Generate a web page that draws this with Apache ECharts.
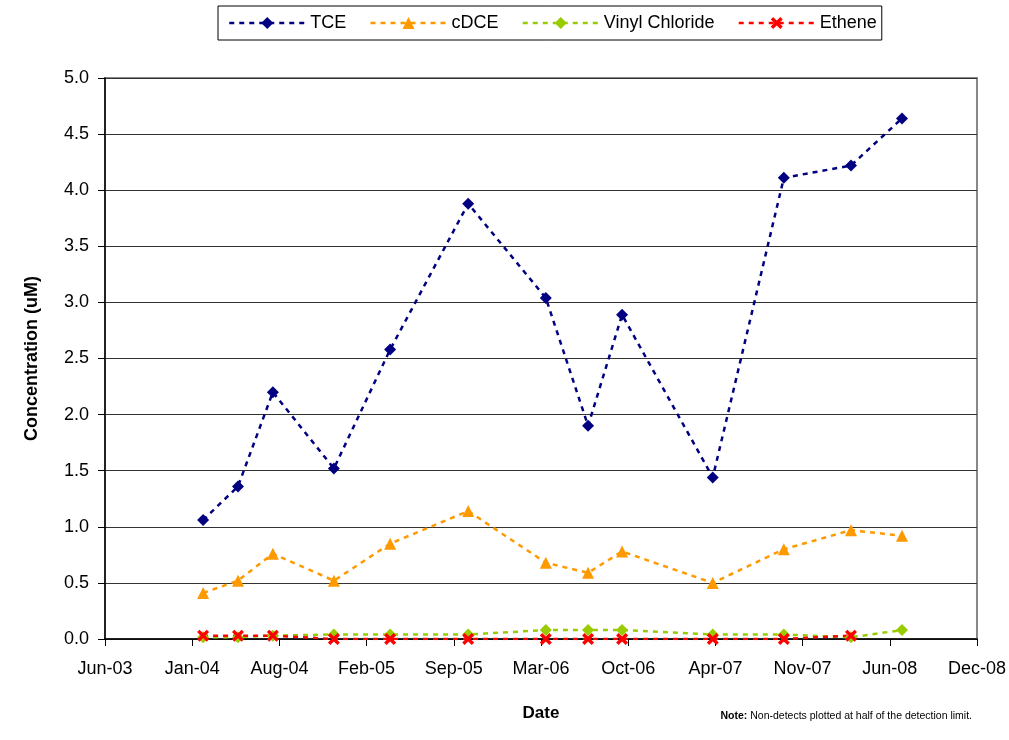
<!DOCTYPE html>
<html lang="en">
<head>
  <meta charset="UTF-8">
  <script src="https://cdn.jsdelivr.net/npm/echarts/dist/echarts.min.js"></script>
  <style>
    html, body { margin: 0; padding: 0; background: #fff; }
    #chart { width: 1009px; height: 740px; }
  </style>
</head>
<body>
  <div id="chart"></div>
  <script>
    // sampling dates and concentrations (uM)
    const sampleDates = [
      '2004-02-08', '2004-04-28', '2004-07-17', '2004-12-04', '2005-04-12',
      '2005-10-08', '2006-04-04', '2006-07-10', '2006-09-26', '2007-04-22',
      '2007-10-02', '2008-03-04', '2008-06-29'
    ];
    const tce = [1.06, 1.36, 2.20, 1.52, 2.58, 3.88, 3.04, 1.90, 2.89, 1.44, 4.11, 4.22, 4.64];
    const cdce = [0.41, 0.52, 0.76, 0.52, 0.85, 1.14, 0.68, 0.59, 0.78, 0.50, 0.80, 0.97, 0.92];
    const vinylChloride = [0.015, 0.015, 0.03, 0.04, 0.04, 0.04, 0.08, 0.08, 0.08, 0.04, 0.04, 0.015, 0.08];
    const ethene = [0.03, 0.03, 0.03, 0.0, 0.0, 0.0, 0.0, 0.0, 0.0, 0.0, 0.0, 0.03, null];

    // x axis runs in days from the axis start, ticks every 200 days
    const axisStart = Date.UTC(2003, 5, 28);
    const DAY = 86400000;
    const months = ['Jan', 'Feb', 'Mar', 'Apr', 'May', 'Jun', 'Jul', 'Aug', 'Sep', 'Oct', 'Nov', 'Dec'];

    function dayOffset(s) {
      const [y, m, d] = s.split('-').map(Number);
      return (Date.UTC(y, m - 1, d) - axisStart) / DAY;
    }
    function dateLabel(v) {
      const d = new Date(axisStart + v * DAY);
      return months[d.getUTCMonth()] + '-' + String(d.getUTCFullYear() % 100).padStart(2, '0');
    }

    const xs = sampleDates.map(dayOffset);
    const pairs = vals => xs.map((x, i) => [x, vals[i]]).filter(p => p[1] !== null);

    const crossPath = 'path://M2,0 L5,3 L8,0 L10,2 L7,5 L10,8 L8,10 L5,7 L2,10 L0,8 L3,5 L0,2 Z';
    const font = '"Liberation Sans", Arial, sans-serif';
    const dash = [5, 5];

    const seriesDefs = [
      { name: 'TCE', data: tce, color: '#000080', symbol: 'diamond', size: 12 },
      { name: 'cDCE', data: cdce, color: '#FF9900', symbol: 'triangle', size: 12 },
      { name: 'Vinyl Chloride', data: vinylChloride, color: '#99CC00', symbol: 'diamond', size: 12 },
      { name: 'Ethene', data: ethene, color: '#FF0000', symbol: crossPath, size: 12 }
    ];

    const chart = echarts.init(document.getElementById('chart'));
    chart.setOption({
      animation: false,
      textStyle: { fontFamily: font },
      grid: {
        left: 105, right: 32, top: 78, bottom: 101,
        show: true, borderColor: '#888', borderWidth: 2, backgroundColor: '#fff'
      },
      legend: {
        left: 218, top: 6,
        padding: [8, 5, 8, 10],
        itemGap: 23,
        itemWidth: 76,
        itemHeight: 15,
        borderColor: '#000',
        borderWidth: 1,
        textStyle: { fontSize: 18, color: '#000', fontFamily: font },
        data: seriesDefs.map(s => ({ name: s.name, lineStyle: { type: dash, width: 2.5 } }))
      },
      xAxis: {
        type: 'value',
        min: 0, max: 2000, interval: 200,
        name: 'Date',
        nameLocation: 'middle',
        nameGap: 66,
        nameTextStyle: { fontSize: 17, fontWeight: 'bold', color: '#000' },
        axisLine: { lineStyle: { color: '#000', width: 1.5 } },
        axisTick: { length: 7, lineStyle: { color: '#000' } },
        axisLabel: { fontSize: 18, color: '#000', margin: 21, formatter: dateLabel },
        splitLine: { show: false }
      },
      yAxis: {
        type: 'value',
        min: 0, max: 5, interval: 0.5,
        name: 'Concentration (uM)',
        nameLocation: 'middle',
        nameGap: 64,
        nameTextStyle: { fontSize: 18, fontWeight: 'bold', color: '#000' },
        axisLine: { show: true, lineStyle: { color: '#000', width: 1.5 } },
        axisTick: { show: true, length: 7, lineStyle: { color: '#000' } },
        axisLabel: { fontSize: 18, color: '#000', margin: 16, formatter: v => v.toFixed(1) },
        splitLine: { lineStyle: { color: '#333', width: 1 } }
      },
      series: seriesDefs.map(s => ({
        name: s.name,
        type: 'line',
        data: pairs(s.data),
        symbol: s.symbol,
        symbolSize: s.size,
        showAllSymbol: true,
        itemStyle: { color: s.color },
        lineStyle: { color: s.color, width: 2.5, type: dash }
      })),
      graphic: [{
        type: 'text',
        right: 37, top: 711,
        style: {
          text: '{b|Note:} Non-detects plotted at half of the detection limit.',
          rich: {
            b: { fontWeight: 'bold', fontSize: 10.5, fontFamily: font, fill: '#000' }
          },
          fontSize: 10.5,
          fontFamily: font,
          fill: '#000'
        }
      }]
    });
  </script>
</body>
</html>
